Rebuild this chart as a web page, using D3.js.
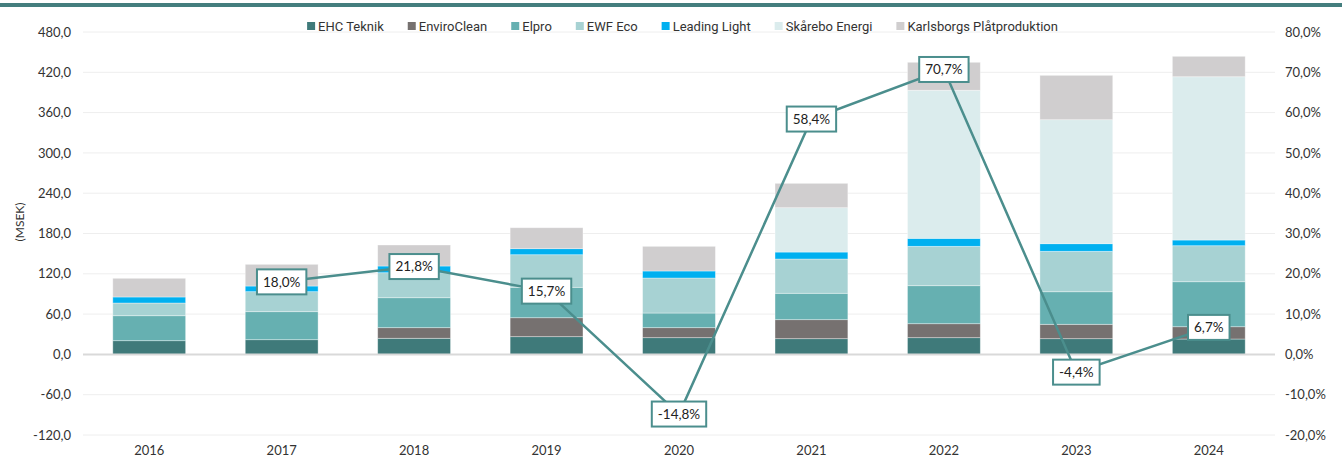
<!DOCTYPE html>
<html>
<head>
<meta charset="utf-8">
<script src="https://cdn.jsdelivr.net/npm/d3@7"></script>
<style>
  body { margin: 0; background: #ffffff; }
  svg { display: block; }
</style>
</head>
<body>
<svg id="chart" width="1342" height="458"></svg>
<script>
// data
var years = ["2016", "2017", "2018", "2019", "2020", "2021", "2022", "2023", "2024"];
var companies = ["EHC Teknik", "EnviroClean", "Elpro", "EWF Eco", "Leading Light", "Skårebo Energi", "Karlsborgs Plåtproduktion"];
var colors = ["#3f7a7a", "#767170", "#66b0b1", "#a7d2d3", "#00b0f0", "#dbeced", "#d0cecf"];

var ehcTeknik   = [20.4, 21.9, 24.0, 26.4, 24.9, 23.4, 24.9, 23.4, 22.9];
var enviroClean = [0, 0, 15.8, 28.2, 14.9, 28.3, 20.8, 21.4, 18.3];
var elpro       = [37.2, 41.7, 44.6, 45.3, 21.8, 39.3, 56.6, 48.5, 67.0];
var ewfEco      = [18.9, 29.8, 37.2, 48.5, 52.1, 51.0, 58.6, 60.2, 53.6];
var leadingLight = [9.0, 8.4, 10.0, 9.0, 10.5, 10.4, 11.9, 11.3, 8.5];
var skarebo     = [0, 0, 0, 0, 0, 66.0, 220.4, 184.6, 243.1];
var karlsborgs  = [27.8, 32.3, 31.3, 31.2, 36.7, 36.3, 41.7, 66.1, 30.4];

var growthYears = ["2017", "2018", "2019", "2020", "2021", "2022", "2023", "2024"];
var growth = [0.180, 0.218, 0.157, -0.148, 0.584, 0.707, -0.044, 0.067];

var leftTicks = [-120, -60, 0, 60, 120, 180, 240, 300, 360, 420, 480];
var rightTicks = [-0.2, -0.1, 0, 0.1, 0.2, 0.3, 0.4, 0.5, 0.6, 0.7, 0.8];

var series = [ehcTeknik, enviroClean, elpro, ewfEco, leadingLight, skarebo, karlsborgs];

var margin = {top: 32, right: 67, bottom: 23, left: 83};
var width = 1342 - margin.left - margin.right,
    height = 458 - margin.top - margin.bottom;

var svg = d3.select("#chart");

// teal band at the very top
svg.append("rect")
    .attr("x", 0).attr("y", 3)
    .attr("width", 1342).attr("height", 4)
    .style("fill", "#447e7e");

var g = svg.append("g")
    .attr("transform", "translate(" + margin.left + "," + margin.top + ")");

var x = d3.scaleBand().domain(years).range([0, width]).paddingInner(0.45).paddingOuter(0.225);
var y = d3.scaleLinear().domain([-120, 480]).range([height, 0]);
var y2 = d3.scaleLinear().domain([-0.2, 0.8]).range([height, 0]);

// swedish style numbers: comma decimals, plain hyphen minus
var se = d3.formatLocale({decimal: ",", thousands: " ", grouping: [3], currency: ["", " kr"], minus: "-"});
var fmtLeft = se.format(".1f");
var fmtRight = se.format(".1%");

// gridlines
g.selectAll(".grid")
    .data(leftTicks)
    .enter()
    .append("line")
    .attr("x1", 0).attr("x2", width)
    .attr("y1", function(d) { return y(d); })
    .attr("y2", function(d) { return y(d); })
    .style("stroke", "#eeeeee")
    .style("stroke-width", 1);

// left axis
var yAxis = g.append("g")
    .call(d3.axisLeft(y).tickValues(leftTicks).tickFormat(fmtLeft).tickSize(0).tickPadding(12));
yAxis.select(".domain").remove();
yAxis.selectAll("text")
    .style("font-family", "Lato")
    .style("font-size", "13px")
    .style("fill", "#333333");

// right axis
var yAxis2 = g.append("g")
    .attr("transform", "translate(" + width + ",0)")
    .call(d3.axisRight(y2).tickValues(rightTicks).tickFormat(fmtRight).tickSize(0).tickPadding(10));
yAxis2.select(".domain").remove();
yAxis2.selectAll("text")
    .style("font-family", "Lato")
    .style("font-size", "13px")
    .style("fill", "#333333");

// y axis title
svg.append("text")
    .attr("transform", "translate(24,222) rotate(-90)")
    .style("text-anchor", "middle")
    .style("font-family", "Lato")
    .style("font-size", "12px")
    .style("fill", "#333333")
    .text("(MSEK)");

// stacked bars
var table = years.map(function(yr, i) {
    var row = {year: yr};
    companies.forEach(function(c, j) { row[c] = series[j][i]; });
    return row;
});
var stacked = d3.stack().keys(companies)(table);

g.selectAll(".layer")
    .data(stacked)
    .enter()
    .append("g")
    .style("fill", function(d, i) { return colors[i]; })
    .selectAll("rect")
    .data(function(d) { return d; })
    .enter()
    .append("rect")
    .attr("x", function(d) { return x(d.data.year); })
    .attr("y", function(d) { return y(d[1]); })
    .attr("width", x.bandwidth())
    .attr("height", function(d) { return Math.max(0, y(d[0]) - y(d[1])); })
    .style("stroke", "#ffffff")
    .style("stroke-opacity", 0.45)
    .style("stroke-width", 0.8);

// zero line
g.append("line")
    .attr("x1", 0).attr("x2", width)
    .attr("y1", y(0)).attr("y2", y(0))
    .style("stroke", "#d9d9d9")
    .style("stroke-width", 2);

// x axis
var xAxis = g.append("g")
    .attr("transform", "translate(0," + height + ")")
    .call(d3.axisBottom(x).tickSize(0).tickPadding(11));
xAxis.select(".domain").remove();
xAxis.selectAll("text")
    .style("font-family", "Lato")
    .style("font-size", "13px")
    .style("fill", "#333333");

// growth line
var xc = function(yr) { return x(yr) + x.bandwidth() / 2; };
var line = d3.line()
    .x(function(d, i) { return xc(growthYears[i]); })
    .y(function(d) { return y2(d); });

g.append("path")
    .datum(growth)
    .attr("d", line)
    .style("fill", "none")
    .style("stroke", "#4b8e8d")
    .style("stroke-width", 2.5);

// growth labels
var labels = g.selectAll(".glabel")
    .data(growth)
    .enter()
    .append("g")
    .attr("transform", function(d, i) { return "translate(" + xc(growthYears[i]) + "," + y2(d) + ")"; });

labels.append("text")
    .attr("text-anchor", "middle")
    .attr("dy", "0.36em")
    .style("font-family", "Lato")
    .style("font-size", "13.5px")
    .style("fill", "#222222")
    .text(function(d) { return fmtRight(d); });

labels.each(function() {
    var t = d3.select(this).select("text");
    var w = t.node().getComputedTextLength();
    d3.select(this).insert("rect", "text")
        .attr("x", -w / 2 - 6)
        .attr("y", -12.5)
        .attr("width", w + 12)
        .attr("height", 25)
        .style("fill", "#ffffff")
        .style("stroke", "#4b8e8d")
        .style("stroke-width", 2);
});

// legend
var legend = svg.append("g").attr("transform", "translate(0,26)");
var pos = 0;
var items = [];
companies.forEach(function(c, i) {
    var item = legend.append("g");
    item.append("rect")
        .attr("x", 0).attr("y", -4)
        .attr("width", 8).attr("height", 8)
        .style("fill", colors[i]);
    var t = item.append("text")
        .attr("x", 11)
        .attr("dy", "0.36em")
        .style("font-family", "Roboto")
        .style("font-size", "13px")
        .style("fill", "#333333")
        .text(c);
    var w = 11 + t.node().getComputedTextLength();
    items.push({node: item, x: pos});
    pos += w + 24;
});
var total = pos - 24;
var start = 682.5 - total / 2;
items.forEach(function(it) {
    it.node.attr("transform", "translate(" + (start + it.x) + ",0)");
});
</script>
</body>
</html>
